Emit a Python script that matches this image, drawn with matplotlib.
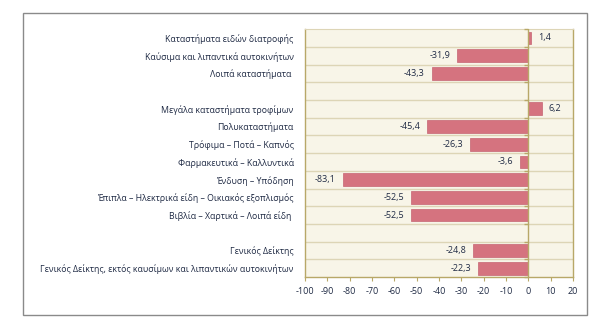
import matplotlib.pyplot as plt
import numpy as np
from matplotlib.patches import Rectangle

plt.rcParams["font.family"] = ["Open Sans", "DejaVu Sans"]
plt.rcParams["axes.unicode_minus"] = False

categories = [
    "Καταστήματα ειδών διατροφής",
    "Καύσιμα και λιπαντικά αυτοκινήτων",
    "Λοιπά καταστήματα ",
    "",
    "Μεγάλα καταστήματα τροφίμων",
    "Πολυκαταστήματα",
    "Τρόφιμα – Ποτά – Καπνός",
    "Φαρμακευτικά – Καλλυντικά",
    "Ένδυση – Υπόδηση",
    "Έπιπλα – Ηλεκτρικά είδη – Οικιακός εξοπλισμός",
    "Βιβλία – Χαρτικά – Λοιπά είδη ",
    "",
    "Γενικός Δείκτης",
    "Γενικός Δείκτης, εκτός καυσίμων και λιπαντικών αυτοκινήτων",
]
values = [1.4, -31.9, -43.3, np.nan, 6.2, -45.4, -26.3, -3.6, -83.1, -52.5, -52.5, np.nan, -24.8, -22.3]
x_ticks = list(range(-100, 21, 10))

bar_color = "#d5737f"
axis_color = "#b8a868"
grid_color = "#ddd5b6"
text_color = "#1f2a44"

fig = plt.figure(figsize=(6.0, 3.31), dpi=100)
fig.patches.append(Rectangle((0.038, 0.048), 0.94, 0.913, transform=fig.transFigure,
                             fill=False, edgecolor="#8a8a8a", lw=1.0))
ax = fig.add_axes([0.508, 0.163, 0.447, 0.749])
ax.set_facecolor("#f8f5e8")

y = np.arange(len(categories))
vals = np.array(values, dtype=float)
ax.barh(y, np.nan_to_num(vals), height=0.72, color=bar_color, edgecolor="#c56473", lw=0.5, zorder=3)

ax.set_xlim(x_ticks[0], x_ticks[-1])
ax.set_ylim(len(categories) - 0.5, -0.5)

for b in np.arange(len(categories) - 1) + 0.5:
    ax.axhline(b, color=grid_color, lw=1.0, zorder=1)
ax.axvline(0, color=axis_color, lw=1.0, zorder=4)
ax.plot(np.zeros(len(categories) + 1), np.arange(len(categories) + 1) - 0.5, ls="none",
        marker=0, markersize=3, color=axis_color, mew=1.0, zorder=4, clip_on=False)

for yi, v in zip(y, vals):
    if np.isnan(v):
        continue
    label = f"{v:.1f}".replace(".", ",")
    if v >= 0:
        ax.text(v + 3.0, yi, label, ha="left", va="center", fontsize=6.5, color=text_color, zorder=5)
    else:
        ax.text(v - 3.0, yi, label, ha="right", va="center", fontsize=6.5, color=text_color, zorder=5)

ax.set_yticks(y)
ax.set_yticklabels(categories, fontsize=6.3, color=text_color)
ax.tick_params(axis="y", length=0, pad=8)
ax.set_xticks(x_ticks)
ax.set_xticklabels([str(t) for t in x_ticks], fontsize=6.5, color=text_color)
ax.tick_params(axis="x", length=3, color=axis_color, pad=4)

for side in ("left", "right", "bottom"):
    ax.spines[side].set_color(axis_color)
    ax.spines[side].set_linewidth(1.0)
ax.spines["top"].set_color(grid_color)

fig.savefig("out.png", dpi=100, facecolor="white")
